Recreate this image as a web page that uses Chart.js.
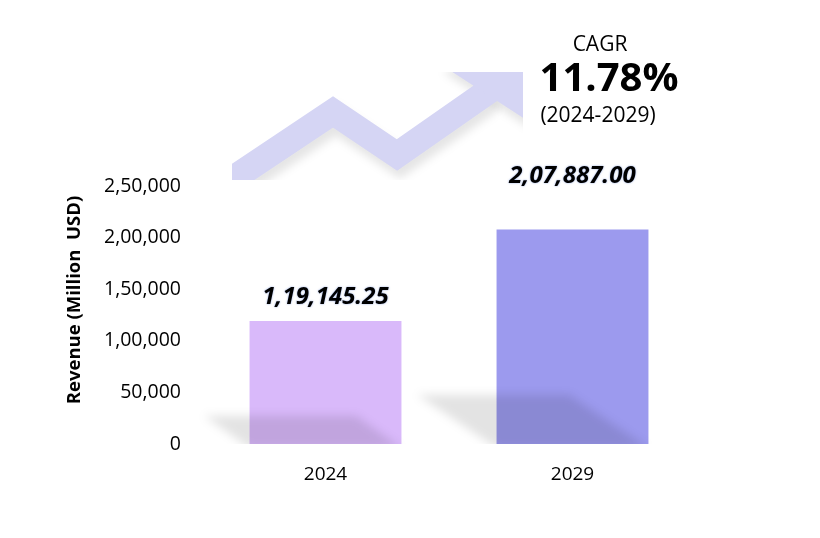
<!DOCTYPE html>
<html>
<head>
<meta charset="utf-8">
<script src="https://cdn.jsdelivr.net/npm/chart.js@4.4.1/dist/chart.umd.min.js"></script>
<style>
  html, body { margin: 0; padding: 0; background: #fff; }
  #wrap { width: 820px; height: 538px; }
</style>
</head>
<body>
<div id="wrap"><canvas id="myChart"></canvas></div>
<script>
const years = ['2024', '2029'];
const revenue = [119145.25, 207887.00];
const revenueLabels = ['1,19,145.25', '2,07,887.00'];
const barColors = ['#d9b9fa', '#9c9aee'];
const yTickLabels = ['0', '50,000', '1,00,000', '1,50,000', '2,00,000', '2,50,000'];
const cagrLines = ['CAGR', '11.78%', '(2024-2029)'];

const FONT = '"Open Sans", sans-serif';

// decorative zigzag arrow behind the CAGR text
const arrowPlugin = {
  id: 'arrow',
  beforeDraw(chart) {
    const ctx = chart.ctx;
    const band = [[195, 204], [333, 112], [397, 155], [490, 90]];
    const head = [[440, 64], [545, 132], [565, 28]];
    const drawShapes = (color) => {
      ctx.strokeStyle = color;
      ctx.fillStyle = color;
      ctx.lineWidth = 26;
      ctx.lineJoin = 'miter';
      ctx.beginPath();
      band.forEach((p, i) => i ? ctx.lineTo(p[0], p[1]) : ctx.moveTo(p[0], p[1]));
      ctx.stroke();
      ctx.beginPath();
      head.forEach((p, i) => i ? ctx.lineTo(p[0], p[1]) : ctx.moveTo(p[0], p[1]));
      ctx.closePath();
      ctx.fill();
    };
    ctx.save();
    ctx.beginPath();
    ctx.rect(232, 72, 291, 108);
    ctx.clip();
    ctx.save();
    ctx.translate(3, 8);
    ctx.filter = 'blur(4px)';
    drawShapes('rgba(0,0,0,0.10)');
    ctx.restore();
    drawShapes('#d5d5f4');
    ctx.restore();
  }
};

// soft perspective shadow at the foot of each bar
const barShadow = {
  id: 'barShadow',
  afterDatasetsDraw(chart) {
    const ctx = chart.ctx;
    chart.getDatasetMeta(0).data.forEach(bar => {
      const { x, y, base, width } = bar.getProps(['x', 'y', 'base', 'width'], true);
      const h = base - y;
      const dx = 0.37 * h, dy = 0.23 * h;
      const l = x - width / 2, r = x + width / 2;
      ctx.save();
      ctx.beginPath();
      ctx.rect(0, 0, chart.width, base);
      ctx.clip();
      ctx.filter = 'blur(5px)';
      ctx.fillStyle = 'rgba(0,0,0,0.11)';
      ctx.beginPath();
      ctx.moveTo(l, base + 4);
      ctx.lineTo(r, base + 4);
      ctx.lineTo(r - dx, base - dy);
      ctx.lineTo(l - dx, base - dy);
      ctx.closePath();
      ctx.fill();
      ctx.restore();
    });
  }
};

const valueLabels = {
  id: 'valueLabels',
  afterDatasetsDraw(chart, args, opts) {
    const ctx = chart.ctx;
    ctx.save();
    ctx.font = 'italic bold 24px ' + FONT;
    ctx.textAlign = 'center';
    ctx.textBaseline = 'middle';
    ctx.fillStyle = '#000';
    ctx.shadowColor = 'rgba(60,100,200,0.6)';
    ctx.shadowBlur = 2;
    chart.getDatasetMeta(0).data.forEach((bar, i) => {
      ctx.fillText(revenueLabels[i], bar.x, bar.y - opts.offsets[i]);
    });
    ctx.restore();
  }
};

const extraText = {
  id: 'extraText',
  afterDraw(chart) {
    const ctx = chart.ctx;
    ctx.save();
    ctx.fillStyle = '#000';
    ctx.textAlign = 'center';
    ctx.textBaseline = 'middle';
    ctx.font = '21px ' + FONT;
    ctx.fillText(cagrLines[0], 600, 45);
    ctx.font = 'bold 40px ' + FONT;
    ctx.fillText(cagrLines[1], 609, 80);
    ctx.font = '21px ' + FONT;
    ctx.fillText(cagrLines[2], 598, 116);
    // y axis title
    ctx.translate(75, 300);
    ctx.rotate(-Math.PI / 2);
    ctx.font = 'bold 18.5px ' + FONT;
    ctx.fillText('Revenue (Million  USD)', 0, 0);
    ctx.restore();
  }
};

new Chart(document.getElementById('myChart'), {
  type: 'bar',
  data: {
    labels: years,
    datasets: [{
      data: revenue,
      backgroundColor: barColors,
      borderWidth: 0,
      barPercentage: 0.615,
      categoryPercentage: 1
    }]
  },
  options: {
    responsive: true,
    maintainAspectRatio: false,
    animation: false,
    layout: { padding: { top: 186, right: 124, bottom: 0, left: 0 } },
    plugins: {
      legend: { display: false },
      tooltip: { enabled: false },
      valueLabels: { offsets: [24, 53] }
    },
    scales: {
      x: {
        grid: { display: false, drawTicks: false },
        border: { display: false },
        ticks: { color: '#000', font: { family: FONT, size: 19 }, padding: 19 },
        afterFit(s) { s.height = 94; }
      },
      y: {
        min: 0,
        max: 250000,
        grid: { display: false, drawTicks: false },
        border: { display: false },
        ticks: {
          stepSize: 50000,
          color: '#000',
          font: { family: FONT, size: 19.5 },
          padding: 21,
          callback: (v, i) => yTickLabels[i]
        },
        afterFit(s) { s.width = 202; }
      }
    }
  },
  plugins: [arrowPlugin, barShadow, valueLabels, extraText]
});
</script>
</body>
</html>
